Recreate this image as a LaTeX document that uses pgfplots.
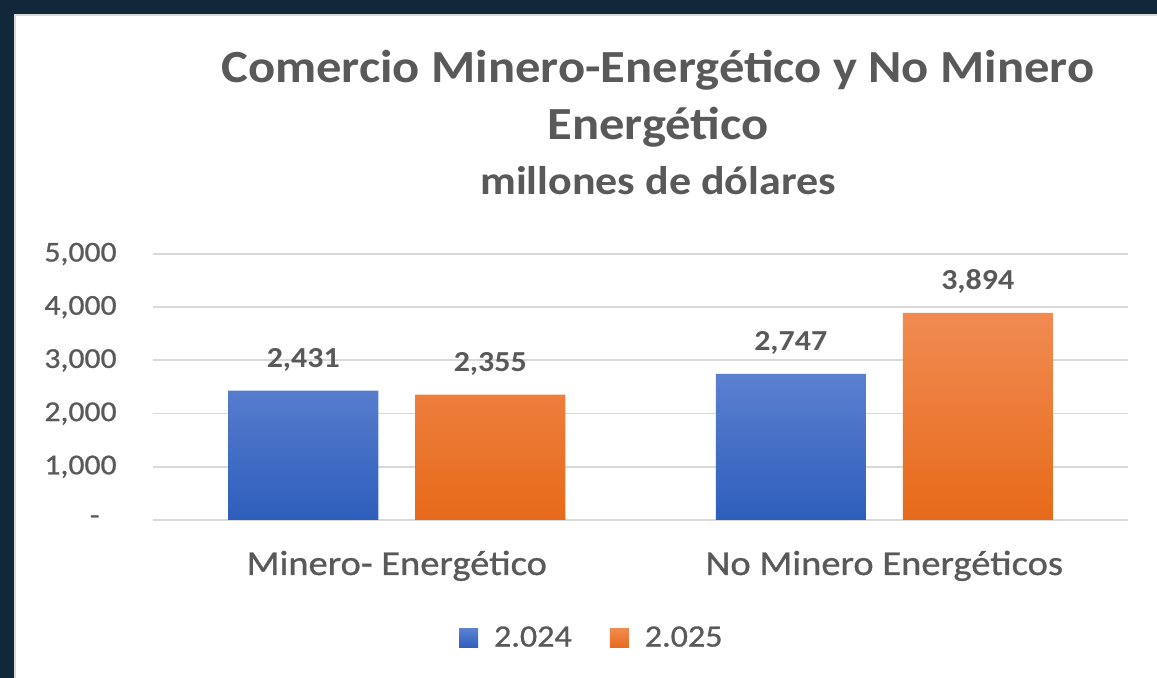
\documentclass[border=0pt]{standalone}
\usepackage{fontspec}
\setmainfont{Carlito}[FakeStretch=1.1]
\newfontfamily\medfont{Carlito}[FakeStretch=1.1, FakeBold=0.8]
\usepackage{pgfplots}
\pgfplotsset{compat=1.18}
\definecolor{navy}{HTML}{11283A}
\definecolor{txt}{HTML}{595959}
\definecolor{gridc}{HTML}{D9D9D9}
\definecolor{btop}{HTML}{5B80CF}
\definecolor{bbot}{HTML}{2E5EBD}
\definecolor{otop}{HTML}{F18B52}
\definecolor{obot}{HTML}{E76A1A}
\pgfplotsset{sq legend/.style={legend image code/.code={%
  \path[##1, draw=none] (0pt,-4.75pt) rectangle (9.5pt,4.75pt);
  \path (17.5pt,0pt);}}}
\begin{document}
\begin{tikzpicture}
\useasboundingbox (0,0) rectangle (578.5pt,339pt);
\fill[navy] (0,0) rectangle (578.5pt,339pt);
\filldraw[fill=white, draw=gridc, line width=1pt] (7.5pt,-5pt) rectangle (600pt,331.5pt);
\node[anchor=base, text=txt, font=\fontsize{23}{27}\selectfont\bfseries, inner sep=0pt] at (329pt,297.5pt) {Comercio Minero-Energético y No Minero};
\node[anchor=base, text=txt, font=\fontsize{23}{27}\selectfont\bfseries, inner sep=0pt] at (329pt,269pt) {Energético};
\node[anchor=base, text=txt, font=\fontsize{20}{24}\selectfont\bfseries, inner sep=0pt] at (329pt,241.5pt) {millones de dólares};
\begin{axis}[
  at={(76.5pt,79pt)}, anchor=south west,
  scale only axis, width=487.5pt, height=133pt,
  xmin=-0.5, xmax=1.5, ymin=0, ymax=5000,
  ybar=18.5pt, bar width=75pt,
  xtick={0,1}, xticklabels={Minero- Energético, No Minero Energéticos},
  ytick={0,1000,2000,3000,4000,5000},
  yticklabels={{-\hspace*{8.5pt}},{1,000},{2,000},{3,000},{4,000},{5,000}},
  axis line style={draw=none},
  major tick length=0pt,
  ymajorgrids, grid style={draw=gridc, line width=0.9pt},
  tick label style={text=txt},
  yticklabel style={font=\fontsize{14.4}{17}\selectfont\medfont, anchor=east, inner sep=0pt, xshift=-18pt},
  xticklabel style={font=\fontsize{17.5}{21}\selectfont\medfont, anchor=base, inner sep=0pt, yshift=-27.5pt},
  clip=false,
  nodes near coords={\pgfmathprintnumber[1000 sep={,}, assume math mode=true]{\pgfplotspointmeta}},
  every node near coord/.append style={font=\fontsize{14.5}{17}\selectfont\bfseries, text=txt, anchor=base, yshift=11.5pt, inner sep=0pt},
  legend style={at={(axis description cs:0.449,-0.4436)}, anchor=center, draw=none, fill=none,
    font=\fontsize{15.5}{18}\selectfont\medfont, text=txt, inner sep=0pt, nodes={inner sep=0pt},
    /tikz/column sep=0pt, /tikz/every even column/.append style={column sep=19pt}},
  legend columns=2,
]
\addplot[draw=none, top color=btop, bottom color=bbot, sq legend] coordinates {(0,2431) (1,2747)};
\addlegendentry{2.024}
\addplot[draw=none, top color=otop, bottom color=obot, sq legend] coordinates {(0,2355) (1,3894)};
\addlegendentry{2.025}
\end{axis}
\end{tikzpicture}
\end{document}
